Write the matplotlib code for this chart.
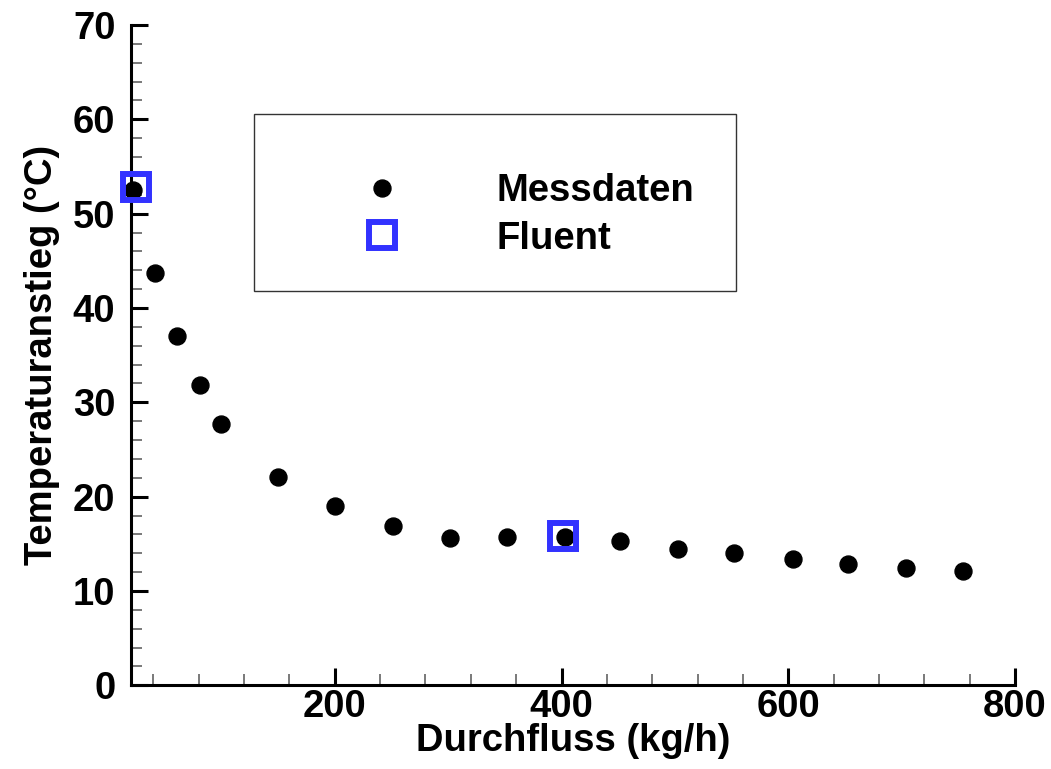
import matplotlib
matplotlib.use("Agg")
import matplotlib.pyplot as plt
from matplotlib.ticker import MultipleLocator, FixedLocator
from matplotlib.patches import Rectangle

# Data
mess_x = [22, 41, 61, 81, 100, 150, 200, 251, 302, 352, 403, 452, 503, 552, 604, 653, 704, 754]
mess_y = [52.5, 43.7, 37.0, 31.8, 27.7, 22.1, 19.0, 16.9, 15.6, 15.75, 15.75, 15.3, 14.5, 14.0, 13.4, 12.9, 12.4, 12.1]
fluent_x = [25, 401]
fluent_y = [52.8, 15.8]
x_major = [200, 400, 600, 800]
y_major = [0, 10, 20, 30, 40, 50, 60, 70]
xlabel = "Durchfluss (kg/h)"
ylabel = "Temperaturanstieg (°C)"
labels = ["Messdaten", "Fluent"]

plt.rcParams['font.family'] = ['Liberation Sans', 'DejaVu Sans']
plt.rcParams['font.weight'] = 'bold'
FS = 27.5

W, H = 1051, 769
fig = plt.figure(figsize=(W / 100, H / 100), dpi=100)
L, R, B, T = 130.7, 1015, 685.3, 25
ax = fig.add_axes([L / W, 1 - B / H, (R - L) / W, (B - T) / H])

m1, = ax.plot(mess_x, mess_y, 'o', color='black', markersize=12.2, linestyle='none',
              label=labels[0], clip_on=False, zorder=3)
m2, = ax.plot(fluent_x, fluent_y, 's', markerfacecolor='none', markeredgecolor='#3232ff',
              markeredgewidth=4.3, markersize=18.5, linestyle='none', label=labels[1],
              clip_on=False, zorder=4)

ax.set_xlim(20, 800)
ax.set_ylim(0, 70)
ax.xaxis.set_major_locator(FixedLocator(x_major))
ax.yaxis.set_major_locator(FixedLocator(y_major))
ax.xaxis.set_minor_locator(MultipleLocator(40))
ax.yaxis.set_minor_locator(MultipleLocator(2))

for s in ['top', 'right']:
    ax.spines[s].set_visible(False)
for s in ['left', 'bottom']:
    ax.spines[s].set_linewidth(2.2)

ax.tick_params(which='major', direction='in', length=12.5, width=2.2, labelsize=FS)
ax.tick_params(which='minor', direction='in', length=8, width=1.1, color='#555555')
ax.tick_params(axis='x', which='major', pad=3)
ax.tick_params(axis='y', which='major', pad=11)
for lab in ax.get_xticklabels() + ax.get_yticklabels():
    lab.set_fontweight('bold')

ax.set_xlabel(xlabel, fontsize=FS, fontweight='bold', labelpad=-1.5)
ax.set_ylabel(ylabel, fontsize=FS, fontweight='bold', labelpad=9.5)

# legend frame
fig.patches.append(Rectangle((254 / W, 1 - 291 / H), (736 - 254) / W, (291 - 114) / H,
                             transform=fig.transFigure, facecolor='white',
                             edgecolor='#333333', linewidth=1.0, zorder=1))
leg = fig.legend(handles=[m1, m2], labels=labels, loc='center left',
                 bbox_to_anchor=(344 / W, 1 - 215 / H), frameon=False,
                 prop={'weight': 'bold', 'size': FS},
                 handlelength=2.0, handletextpad=1.98, borderpad=0, borderaxespad=0,
                 labelspacing=0.3, numpoints=1)

fig.savefig("out.png", dpi=100)
